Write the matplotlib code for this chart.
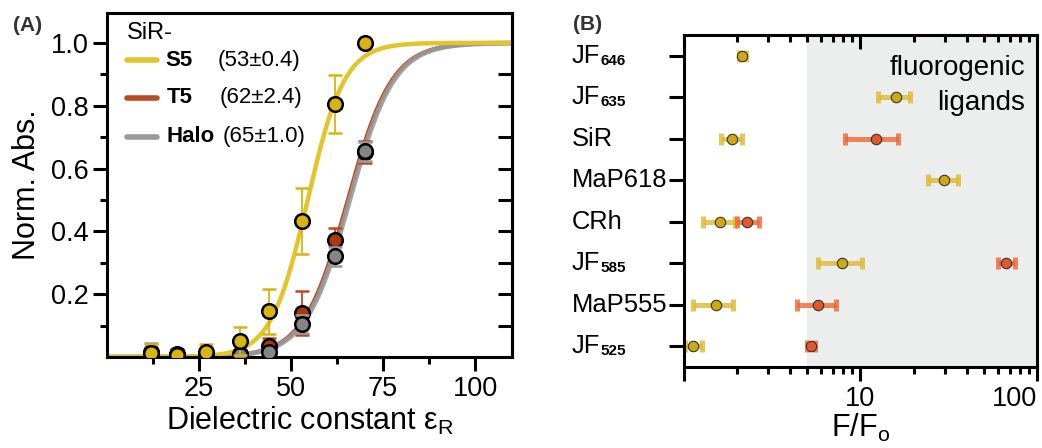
import numpy as np
import matplotlib
matplotlib.use("Agg")
import matplotlib.pyplot as plt
from matplotlib.ticker import LogLocator, NullFormatter, FixedLocator
import matplotlib.transforms as mtransforms

plt.rcParams['font.family'] = ['Liberation Sans', 'DejaVu Sans']
plt.rcParams['mathtext.fontset'] = 'custom'
plt.rcParams['mathtext.rm'] = 'Liberation Sans'
plt.rcParams['mathtext.it'] = 'Liberation Sans:italic'
plt.rcParams['mathtext.bf'] = 'Liberation Sans:bold'

# ---- panel A data ----
eps = [12, 19, 27, 36, 44, 53, 62, 70]
s5 = [0.012, 0.005, 0.015, 0.05, 0.146, 0.434, 0.805, 1.0]
s5_err = [0.03, 0.01, 0.025, 0.045, 0.072, 0.105, 0.093, 0.0]
t5 = [0.01, 0.01, 0.005, 0.01, 0.035, 0.14, 0.372, 0.652]
t5_err = [0.01, 0.015, 0.01, 0.01, 0.025, 0.07, 0.04, 0.035]
halo = [0.015, 0.005, 0.0, 0.005, 0.015, 0.105, 0.32, 0.655]
halo_err = [0.03, 0.01, 0.01, 0.01, 0.01, 0.03, 0.03, 0.03]
# logistic fit parameters (midpoint, width)
fit_s5 = (54.5, 5.0)
fit_t5 = (65.4, 6.0)
fit_halo = (65.9, 6.0)
legend_vals = ["(53±0.4)", "(62±2.4)", "(65±1.0)"]

# ---- panel B data ----
dyes = ["JF525", "MaP555", "JF585", "CRh", "MaP618", "SiR", "JF635", "JF646"]
y_val = [1.13, 1.52, 7.9, 1.60, 29.7, 1.88, 15.8, 2.14]
y_lo = [1.01, 1.12, 5.76, 1.29, 24.1, 1.63, 12.6, 2.04]
y_hi = [1.26, 1.90, 10.2, 1.94, 35.6, 2.12, 19.0, 2.25]
r_idx = [0, 1, 2, 3, 5]
r_val = [5.23, 5.78, 67.0, 2.29, 12.2]
r_lo = [4.95, 4.35, 60.0, 1.99, 8.15]
r_hi = [5.5, 7.25, 75.0, 2.67, 16.3]

c_s5_line = '#E4C42C'
c_s5_mk = '#D8B411'
c_t5_line = '#B94A22'
c_t5_mk = '#A83A0E'
c_halo_line = '#9A9A9A'
c_halo_mk = '#858585'

fig = plt.figure(figsize=(10.42, 4.48), dpi=100)
ax1 = fig.add_axes([0.1027, 0.2031, 0.3887, 0.7679])
ax2 = fig.add_axes([0.6564, 0.1808, 0.3388, 0.7411])

# ---- panel A ----
xs = np.linspace(0, 110, 400)
def logistic(x, p):
    return 1.0 / (1.0 + np.exp(-(x - p[0]) / p[1]))

ax1.plot(xs, logistic(xs, fit_t5), color=c_t5_line, lw=3.0, zorder=2)
ax1.plot(xs, logistic(xs, fit_halo), color=c_halo_line, lw=3.6, alpha=0.9, zorder=2.1)
ax1.plot(xs, logistic(xs, fit_s5), color=c_s5_line, lw=3.2, zorder=2.2)

ax1.errorbar(eps, t5, yerr=t5_err, fmt='o', ms=10.5, mfc=c_t5_mk, mec='black', mew=1.8,
             ecolor=c_t5_line, elinewidth=1.3, capsize=5, capthick=1.3, zorder=3)
ax1.errorbar(eps, halo, yerr=halo_err, fmt='o', ms=10.5, mfc=c_halo_mk, mec='black', mew=1.8,
             ecolor=c_halo_line, elinewidth=1.3, capsize=5, capthick=1.3, zorder=3.1)
ax1.errorbar(eps, s5, yerr=s5_err, fmt='o', ms=10.5, mfc=c_s5_mk, mec='black', mew=1.8,
             ecolor=c_s5_mk, elinewidth=1.3, capsize=5, capthick=1.3, zorder=3.2)

ax1.set_xlim(0, 110)
ax1.set_ylim(0, 1.095)
ax1.xaxis.set_major_locator(FixedLocator([25, 50, 75, 100]))
ax1.xaxis.set_minor_locator(FixedLocator([12.5, 37.5, 62.5, 87.5]))
ax1.yaxis.set_major_locator(FixedLocator([0.2, 0.4, 0.6, 0.8, 1.0]))
ax1.yaxis.set_minor_locator(FixedLocator([0.1, 0.3, 0.5, 0.7, 0.9]))
ax1.tick_params(axis='both', which='major', direction='out', length=10, width=2.2, labelsize=19.5)
ax1.tick_params(axis='both', which='minor', direction='out', length=5, width=2.2)
for s in ax1.spines.values():
    s.set_linewidth(2.2)
ax1.set_xlabel('Dielectric constant ε$_\\mathregular{R}$', fontsize=22, labelpad=2)
ax1.set_ylabel('Norm. Abs.', fontsize=22, labelpad=6)

# inward ticks on the right spine
ax1r = ax1.secondary_yaxis('right')
ax1r.yaxis.set_major_locator(FixedLocator([0.2, 0.4, 0.6, 0.8, 1.0]))
ax1r.yaxis.set_minor_locator(FixedLocator([0.1, 0.3, 0.5, 0.7, 0.9]))
ax1r.tick_params(which='both', direction='in', length=10, width=2.2, labelright=False)
ax1r.spines['right'].set_linewidth(2.2)

# manual legend
ly = [0.863, 0.753, 0.640]
names = ['S5', 'T5', 'Halo']
lcols = [c_s5_line, c_t5_line, c_halo_line]
name_x = [0.143, 0.148, 0.148]
val_x = [0.274, 0.279, 0.286]
ax1.text(0.049, 0.942, 'SiR-', transform=ax1.transAxes, fontsize=17, va='center', ha='left')
for i in range(3):
    ax1.plot([0.049, 0.123], [ly[i], ly[i]], transform=ax1.transAxes, color=lcols[i],
             lw=4, solid_capstyle='round', clip_on=False)
    ax1.text(name_x[i], ly[i], names[i], transform=ax1.transAxes, fontsize=16,
             fontweight='bold', va='center', ha='left')
    ax1.text(val_x[i], ly[i], legend_vals[i], transform=ax1.transAxes, fontsize=16,
             va='center', ha='left')

fig.text(0.012, 0.944, '(A)', fontsize=15, fontweight='bold', color='#333333', va='center')

# ---- panel B ----
ax2.set_xscale('log')
ax2.axvspan(5, 100, color='#ECEEED', zorder=0, lw=0)
ypos = np.arange(len(dyes))
yc = '#DDBB30'
rc = '#EE6633'
ax2.errorbar(y_val, ypos, xerr=[np.array(y_val) - np.array(y_lo), np.array(y_hi) - np.array(y_val)],
             fmt='none', ecolor=yc, elinewidth=3.6, capsize=4.5, capthick=3.6, alpha=0.8, zorder=2)
ax2.errorbar(r_val, [ypos[i] for i in r_idx],
             xerr=[np.array(r_val) - np.array(r_lo), np.array(r_hi) - np.array(r_val)],
             fmt='none', ecolor=rc, elinewidth=3.6, capsize=4.5, capthick=3.6, alpha=0.8, zorder=2)
ax2.plot(y_val, ypos, 'o', ms=7.5, mfc='#CCAA10', mec='#333333', mew=0.8, zorder=3)
ax2.plot(r_val, [ypos[i] for i in r_idx], 'o', ms=7.5, mfc='#E2582A', mec='#333333', mew=0.8, zorder=3)

ax2.set_xlim(1, 100)
ax2.set_ylim(-0.5, 7.5)
ax2.xaxis.set_major_locator(FixedLocator([1, 10, 100]))
ax2.xaxis.set_minor_locator(LogLocator(base=10, subs=np.arange(2, 10)))
ax2.xaxis.set_minor_formatter(NullFormatter())
ax2.set_xticklabels(['', '10', '100'])
labs = ax2.get_xticklabels()
labs[2].set_horizontalalignment('right')
ax2.tick_params(axis='x', which='major', direction='out', length=10, width=2.2, labelsize=19.5)
ax2.tick_params(axis='x', which='minor', direction='out', length=5, width=2.2)
ax2.set_yticks(ypos)
ax2.set_yticklabels([])
ax2.tick_params(axis='y', which='major', direction='out', length=11, width=2.2)
for s in ax2.spines.values():
    s.set_linewidth(2.2)
# top ticks inward
ax2top = ax2.secondary_xaxis('top')
ax2top.set_xscale('log')
ax2top.xaxis.set_major_locator(FixedLocator([1, 10, 100]))
ax2top.xaxis.set_minor_locator(LogLocator(base=10, subs=np.arange(2, 10)))
ax2top.xaxis.set_minor_formatter(NullFormatter())
ax2top.tick_params(which='major', direction='in', length=10, width=2.2, labeltop=False)
ax2top.tick_params(which='minor', direction='in', length=5, width=2.2, labeltop=False)

ax2.set_xlabel('F/F$_\\mathregular{o}$', fontsize=22, labelpad=0)

trans = mtransforms.blended_transform_factory(ax2.transAxes, ax2.transData)
for i, d in enumerate(dyes):
    if d.startswith('JF'):
        ax2.text(-0.317, ypos[i], 'JF', transform=trans, fontsize=18.4, ha='left', va='center',
                 clip_on=False)
        ax2.text(-0.237, ypos[i] - 0.12, d[2:], transform=trans, fontsize=11, fontweight='bold',
                 ha='left', va='center', clip_on=False)
    else:
        ax2.text(-0.317, ypos[i], d, transform=trans, fontsize=18.4, ha='left', va='center',
                 clip_on=False)

ax2.text(0.966, 0.90, 'fluorogenic', transform=ax2.transAxes, fontsize=20, ha='right', va='center')
ax2.text(0.966, 0.795, 'ligands', transform=ax2.transAxes, fontsize=20, ha='right', va='center')

fig.text(0.55, 0.946, '(B)', fontsize=15, fontweight='bold', color='#333333', va='center')

fig.savefig('out.png', dpi=100)
